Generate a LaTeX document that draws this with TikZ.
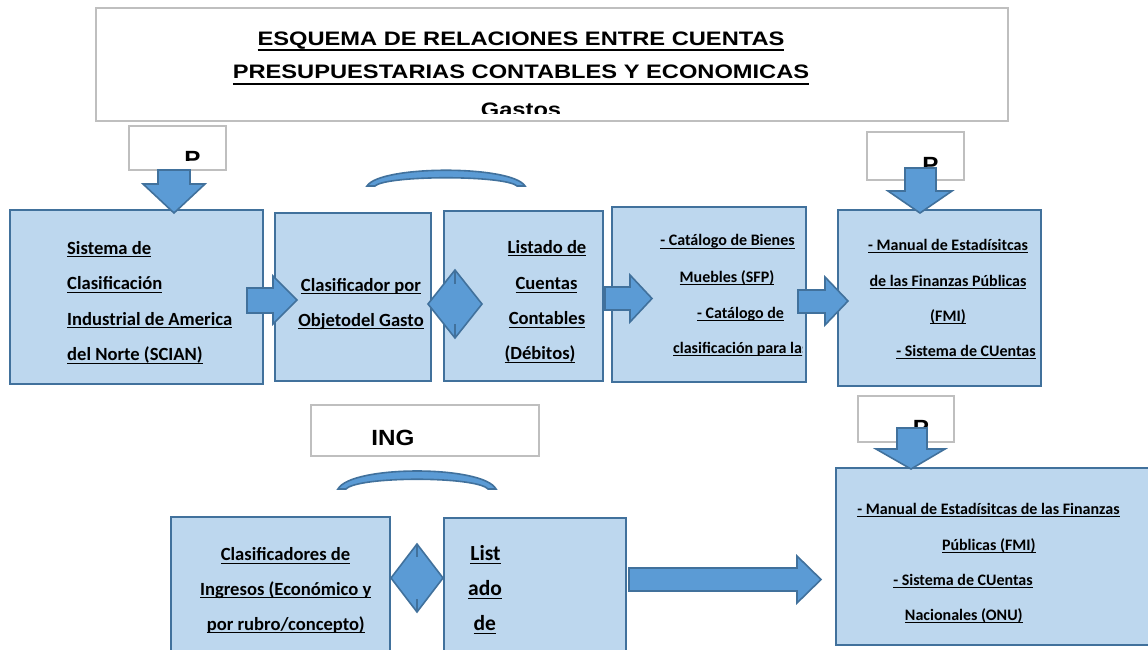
\documentclass[tikz,border=0pt]{standalone}
\usepackage{fontspec}
\setmainfont{Carlito}
\newfontfamily\titlefont{Liberation Sans}[FakeStretch=1.245]
\newfontfamily\ingfont{Liberation Sans}[FakeStretch=1.1]
\definecolor{boxfill}{HTML}{BDD7EE}
\definecolor{boxline}{HTML}{41719C}
\definecolor{arrowfill}{HTML}{5B9BD5}
\definecolor{grayline}{HTML}{BFBFBF}
\newcommand\ulA[1]{\setbox0\hbox{#1}\rlap{\rule[-3.4pt]{\wd0}{1.3pt}}\box0}
\newcommand\ulT[1]{\setbox0\hbox{#1}\rlap{\rule[-6pt]{\wd0}{2pt}}\box0}
\tikzset{
  bbox/.style={draw=boxline, fill=boxfill, line width=2.4pt, inner sep=0pt, outer sep=0pt},
  gbox/.style={draw=grayline, fill=white, line width=1.5pt, inner sep=0pt, outer sep=0pt},
  barrow/.style={draw=boxline, fill=arrowfill, line width=1.6pt, line join=miter},
  tick/.style={draw=boxline, line width=1.6pt},
  tl/.style={font=\fontsize{18.6}{20}\selectfont\bfseries, inner sep=0pt, anchor=base},
  tb/.style={font=\fontsize{21.5}{24}\selectfont\bfseries, inner sep=0pt, anchor=base},
  ts/.style={font=\fontsize{16}{18}\selectfont\bfseries, inner sep=0pt, anchor=base},
  tt/.style={font=\titlefont\fontsize{19.5}{22}\selectfont\bfseries, inner sep=0pt, anchor=base},
  ti/.style={font=\ingfont\fontsize{22}{24}\selectfont\bfseries, inner sep=0pt, anchor=base},
}
\begin{document}
\begin{tikzpicture}[x=1pt,y=-1pt]
\useasboundingbox (0,0) rectangle (1148,649);
\clip (0,0) rectangle (1148,649);

% title box
\node[gbox, minimum width=912, minimum height=113] (title) at (552,64.5) {};
\begin{scope}
  \clip (96,8) rectangle (1008,113);
  \node[tt, xscale=0.975] (t1) at (521,45) {\ulT{ESQUEMA DE RELACIONES ENTRE CUENTAS}};
  \node[tt, xscale=0.975] (t2) at (521,78.5) {\ulT{PRESUPUESTARIAS CONTABLES Y ECONOMICAS}};
  \node[tt, xscale=0.975] (t3) at (521,116) {Gastos};
\end{scope}

% small gray boxes
\node[gbox, minimum width=97, minimum height=44] (p1) at (177.5,148) {};
\node[gbox, minimum width=97, minimum height=48] (p2) at (915.5,156) {};
\node[gbox, minimum width=96, minimum height=46] (p3) at (906,419) {};
\node[gbox, minimum width=228, minimum height=51] (ing) at (425,430.5) {};
\begin{scope}
  \clip (129,126) rectangle (226,160);
  \node[ti] (p1t) at (192.5,166) {P};
\end{scope}
\begin{scope}
  \clip (867,132) rectangle (964,170);
  \node[ti] (p2t) at (930.5,172) {P};
\end{scope}
\begin{scope}
  \clip (858,396) rectangle (954,432);
  \node[ti] (p3t) at (921,435) {P};
\end{scope}
\node[ti] (ingt) at (393,445) {ING};

% blue boxes
\node[bbox, minimum width=253, minimum height=174] (b1) at (136.5,297) {};
\node[bbox, minimum width=156, minimum height=168] (b2) at (353,297) {};
\node[bbox, minimum width=159, minimum height=170] (b3) at (523.5,296) {};
\node[bbox, minimum width=194, minimum height=175] (b4) at (709,294.5) {};
\node[bbox, minimum width=203, minimum height=176] (b5) at (939.5,298) {};
\node[bbox, minimum width=219, minimum height=153] (b6) at (280.5,593.5) {};
\node[bbox, minimum width=182, minimum height=152] (b7) at (535,594) {};
\node[bbox, minimum width=334, minimum height=177] (b8) at (1003,556.5) {};

% box texts
\node[tl, anchor=base west] (b1a) at (67,254) {\ulA{Sistema de}};
\node[tl, anchor=base west] (b1b) at (67,289.5) {\ulA{Clasificación}};
\node[tl, anchor=base west] (b1c) at (67,325) {\ulA{Industrial de America}};
\node[tl, anchor=base west] (b1d) at (67,360.5) {\ulA{del Norte (SCIAN)}};

\node[tl] (b2a) at (361,291) {\ulA{Clasificador por}};
\node[tl] (b2b) at (361,326) {\ulA{Objetodel Gasto}};

\node[tl] (b3a) at (547,253) {\ulA{Listado de}};
\node[tl] (b3b) at (546.5,289.5) {\ulA{Cuentas}};
\node[tl] (b3c) at (547,324.5) {\ulA{Contables}};
\node[tl] (b3d) at (540,359.5) {\ulA{(Débitos)}};

\begin{scope}
  \clip (612,207) rectangle (802,382);
  \node[ts] (b4a) at (727.5,245.5) {\ulA{- Catálogo de Bienes}};
  \node[ts] (b4b) at (727,282) {\ulA{Muebles (SFP)}};
  \node[ts] (b4c) at (740.5,318) {\ulA{- Catálogo de}};
  \node[ts, anchor=base west] (b4d) at (673,353) {\ulA{clasificación para las}};
\end{scope}

\node[ts] (b5a) at (948,250) {\ulA{- Manual de Estadísitcas}};
\node[ts] (b5b) at (948,286) {\ulA{de las Finanzas Públicas}};
\node[ts] (b5c) at (948,321) {\ulA{(FMI)}};
\node[ts] (b5d) at (966,356) {\ulA{- Sistema de CUentas}};

\node[tl] (b6a) at (285.5,560.5) {\ulA{Clasificadores de}};
\node[tl] (b6b) at (285.7,595) {\ulA{Ingresos (Económico y}};
\node[tl] (b6c) at (285.7,630) {\ulA{por rubro/concepto)}};

\node[tb] (b7a) at (485.5,560.5) {\ulA{List}};
\node[tb] (b7b) at (485,595.5) {\ulA{ado}};
\node[tb] (b7c) at (484.7,630.5) {\ulA{de}};

\node[ts] (b8a) at (988.5,514) {\ulA{- Manual de Estadísitcas de las Finanzas}};
\node[ts] (b8b) at (988.8,550) {\ulA{Públicas (FMI)}};
\node[ts] (b8c) at (963,585) {\ulA{- Sistema de CUentas}};
\node[ts] (b8d) at (963.8,620) {\ulA{Nacionales (ONU)}};

% block arrows
\draw[barrow] (247,288) -- (273,288) -- (273,276) -- (297,300) -- (273,324) -- (273,313) -- (247,313) -- cycle;
\draw[barrow] (605,287) -- (630,287) -- (630,275) -- (652,298.5) -- (630,322) -- (630,310) -- (605,310) -- cycle;
\draw[barrow] (798,290) -- (825,290) -- (825,277) -- (848,301) -- (825,325) -- (825,313) -- (798,313) -- cycle;
\draw[barrow] (629,568) -- (797,568) -- (797,556) -- (821,579.5) -- (797,603) -- (797,591) -- (629,591) -- cycle;

\draw[barrow] (158,170) -- (190,170) -- (190,184) -- (205,184) -- (174,213) -- (143,184) -- (158,184) -- cycle;
\draw[barrow] (905,168) -- (936,168) -- (936,191) -- (952,191) -- (920,213) -- (888,191) -- (905,191) -- cycle;
\draw[barrow] (897,428) -- (927,428) -- (927,449) -- (945,449) -- (911,469) -- (876,449) -- (897,449) -- cycle;

% diamonds
\draw[barrow] (428,304) -- (455,270) -- (482,304) -- (455,338) -- cycle;
\draw[tick] (455,270) -- (455,284) (455,324) -- (455,338);
\draw[barrow] (391,578) -- (417,544) -- (443,578) -- (417,612) -- cycle;
\draw[tick] (417,544) -- (417,557) (417,599) -- (417,612);

% arcs
\draw[barrow] (367,186) .. controls (380,165) and (512,165) .. (525,186) -- (517,186) .. controls (505,175) and (387,175) .. (375,186) -- cycle;
\draw[barrow] (338,489) .. controls (351,465) and (483,465) .. (496,489) -- (488,489) .. controls (476,476) and (358,476) .. (346,489) -- cycle;
\end{tikzpicture}
\end{document}
